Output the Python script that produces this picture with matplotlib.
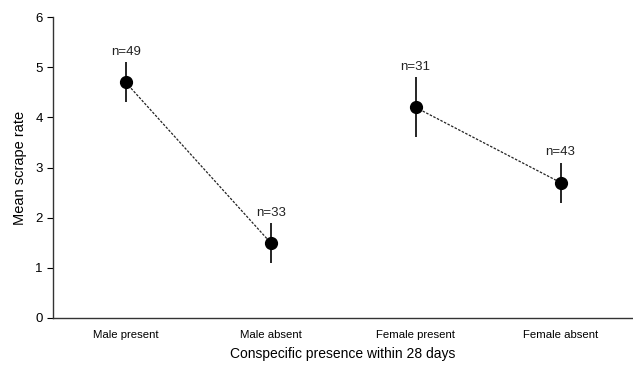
import numpy as np
import matplotlib
matplotlib.use("Agg")
import matplotlib.pyplot as plt

plt.rcParams['font.family'] = ['Liberation Sans', 'DejaVu Sans']

categories = ["Male present", "Male absent", "Female present", "Female absent"]
means = [4.7, 1.5, 4.2, 2.7]
lower = [4.3, 1.1, 3.6, 2.3]
upper = [5.1, 1.9, 4.8, 3.1]
n_labels = ["n=49", "n=33", "n=31", "n=43"]
pairs = [(0, 1), (2, 3)]

fig = plt.figure(figsize=(6.33, 3.65), dpi=100)
ax = fig.add_axes([0.084, 0.129, 0.916, 0.824])

x = np.arange(len(categories))
means_arr = np.array(means)
yerr = [means_arr - np.array(lower), np.array(upper) - means_arr]

# dashed connectors within each sex
for a, b in pairs:
    ax.plot([x[a], x[b]], [means[a], means[b]], ls=(0, (2, 1.2)), lw=0.9, color="#222222", zorder=1)

ax.errorbar(x, means, yerr=yerr, fmt="o", color="black", ms=8.5, elinewidth=1.2, capsize=0, zorder=3)

for xi, up, lab in zip(x, upper, n_labels):
    ax.annotate(lab, (xi, up), xytext=(0, 3), textcoords="offset points",
                ha="center", va="bottom", fontsize=9.5, color="#222222")

ax.set_xlim(-0.5, 3.5)
ax.set_ylim(0, 6)
ax.set_xticks(x)
ax.set_xticklabels(categories, fontsize=8.2)
ax.tick_params(axis="x", length=0, pad=9)
ax.tick_params(axis="y", labelsize=9.5, length=4, width=0.8)
ax.set_yticks(range(0, 7))
ax.spines["top"].set_visible(False)
ax.spines["right"].set_visible(False)
for s in ("left", "bottom"):
    ax.spines[s].set_linewidth(1.0)
    ax.spines[s].set_color("#333333")

ax.set_xlabel("Conspecific presence within 28 days", fontsize=10, labelpad=5)
ax.set_ylabel("Mean scrape rate", fontsize=10.5, labelpad=6)

fig.savefig("out.png", dpi=100)
